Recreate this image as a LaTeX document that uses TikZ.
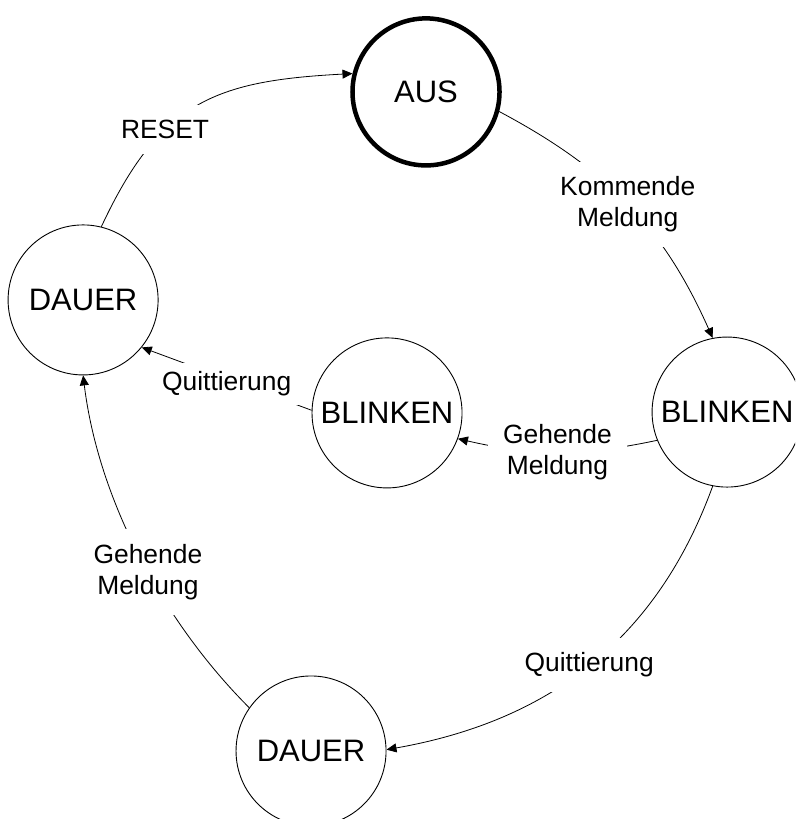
\documentclass[tikz,border=0pt]{standalone}
\usepackage{fontspec}
\setmainfont{Liberation Sans}
\usepackage{tikz}
\usetikzlibrary{arrows.meta}

\begin{document}
\begin{tikzpicture}
            \tikzstyle{state}=[draw, circle, line width=0.9pt, minimum size=150pt, inner sep=0pt, font=\fontsize{31}{37}\selectfont]
            \tikzstyle{lbl}=[fill=white, inner sep=15pt, align=center, font=\fontsize{26.4}{31}\selectfont]
            \tikzstyle{conn}=[line width=0.8pt, -{Triangle[length=10pt,width=9pt]}]
            \useasboundingbox (0,0) rectangle (27.94,28.78);
            \clip (0,0) rectangle (27.94,28.78);
            \node [state, line width=4.5pt, minimum size=147pt] (aus) at (14.97,25.55) {AUS};
            \node [state] (dauerL) at (2.92,18.24) {DAUER};
            \node [state] (blinkM) at (13.60,14.27) {BLINKEN};
            \node [state] (blinkR) at (25.55,14.30) {BLINKEN};
            \node [state] (dauerB) at (10.93,2.39) {DAUER};
            \draw [conn] (dauerL.76) to[out=65,in=183,looseness=1.2] node[lbl,pos=0.35] {RESET} (aus.166);
            \draw [conn] (aus.-15) to[out=-28,in=114] node[lbl] {Kommende\\Meldung} (blinkR.101);
            \draw [conn] (blinkR.202) to[out=192,in=-13] node[lbl] {Gehende\\Meldung} (blinkM.-20);
            \draw [conn] (blinkM.178) -- node[lbl,inner ysep=9pt,yshift=-5pt] {Quittierung} (dauerL.-39);
            \draw [conn] (blinkR.259) to[out=250,in=10] node[lbl] {Quittierung} (dauerB.1.5);
            \draw [conn] (dauerB.145) to[out=135,in=-83,looseness=0.85] node[lbl,pos=0.45] {Gehende\\Meldung} (dauerL.-90);
        \end{tikzpicture}
\end{document}
